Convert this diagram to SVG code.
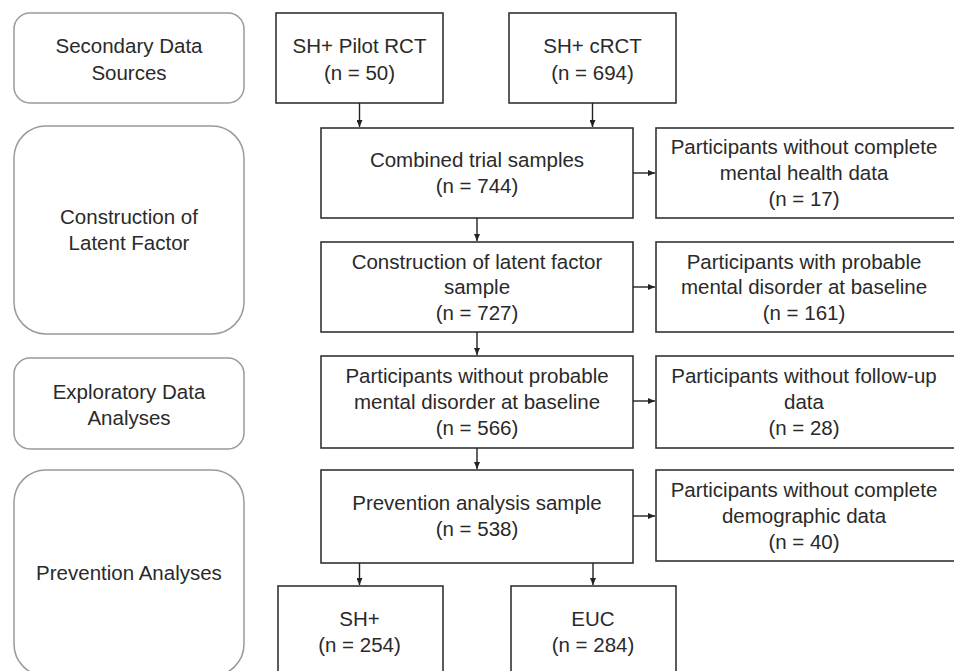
<svg xmlns="http://www.w3.org/2000/svg" width="954" height="671" viewBox="0 0 954 671">
<defs>
<marker id="ah" markerWidth="7" markerHeight="6" refX="7" refY="3" orient="auto" markerUnits="userSpaceOnUse">
<path d="M0,0 L7,3 L0,6 Z" fill="#222"/>
</marker>
<style>
.stage{fill:#fff;stroke:#9a9a9a;stroke-width:1.5}
.box{fill:#fff;stroke:#333;stroke-width:1.6}
text{font-family:"Liberation Sans",Arial,sans-serif;font-size:20.5px;fill:#2a2a2a;text-anchor:middle}
.conn{stroke:#222;stroke-width:1.4;fill:none;marker-end:url(#ah)}
</style>
</defs>
<rect width="954" height="671" fill="#fff"/>

<g id="stage-secondary">
<rect class="stage" x="14" y="13" width="230" height="90" rx="16"/>
<text x="129" y="53">Secondary Data</text>
<text x="129" y="80">Sources</text>
</g>
<g id="stage-latent">
<rect class="stage" x="14" y="126" width="230" height="208" rx="32"/>
<text x="129" y="224">Construction of</text>
<text x="129" y="250">Latent Factor</text>
</g>
<g id="stage-exploratory">
<rect class="stage" x="14" y="358" width="230" height="91" rx="16"/>
<text x="129" y="399">Exploratory Data</text>
<text x="129" y="425">Analyses</text>
</g>
<g id="stage-prevention">
<rect class="stage" x="14" y="470" width="230" height="206" rx="32"/>
<text x="129" y="580">Prevention Analyses</text>
</g>

<g id="pilot">
<rect class="box" x="276" y="13" width="167" height="90"/>
<text x="359.5" y="53">SH+ Pilot RCT</text>
<text x="359.5" y="80">(n = 50)</text>
</g>
<g id="crct">
<rect class="box" x="509" y="13" width="167" height="90"/>
<text x="592.5" y="53">SH+ cRCT</text>
<text x="592.5" y="80">(n = 694)</text>
</g>
<g id="combined">
<rect class="box" x="321" y="128" width="312" height="90"/>
<text x="477" y="167">Combined trial samples</text>
<text x="477" y="193">(n = 744)</text>
</g>
<g id="excl-mental">
<rect class="box" x="656" y="128" width="310" height="90"/>
<text x="804" y="154">Participants without complete</text>
<text x="804" y="180">mental health data</text>
<text x="804" y="206">(n = 17)</text>
</g>
<g id="latent-sample">
<rect class="box" x="321" y="242" width="312" height="90"/>
<text x="477" y="269">Construction of latent factor</text>
<text x="477" y="294">sample</text>
<text x="477" y="320">(n = 727)</text>
</g>
<g id="excl-disorder">
<rect class="box" x="656" y="242" width="310" height="90"/>
<text x="804" y="269">Participants with probable</text>
<text x="804" y="294">mental disorder at baseline</text>
<text x="804" y="320">(n = 161)</text>
</g>
<g id="no-disorder">
<rect class="box" x="321" y="356" width="312" height="92"/>
<text x="477" y="383">Participants without probable</text>
<text x="477" y="409">mental disorder at baseline</text>
<text x="477" y="435">(n = 566)</text>
</g>
<g id="excl-followup">
<rect class="box" x="656" y="356" width="310" height="92"/>
<text x="804" y="383">Participants without follow-up</text>
<text x="804" y="409">data</text>
<text x="804" y="435">(n = 28)</text>
</g>
<g id="prevention-sample">
<rect class="box" x="321" y="470" width="312" height="93"/>
<text x="477" y="510">Prevention analysis sample</text>
<text x="477" y="536">(n = 538)</text>
</g>
<g id="excl-demographic">
<rect class="box" x="656" y="470" width="310" height="91"/>
<text x="804" y="497">Participants without complete</text>
<text x="804" y="523">demographic data</text>
<text x="804" y="549">(n = 40)</text>
</g>
<g id="shplus">
<rect class="box" x="278" y="586" width="165" height="100"/>
<text x="359.5" y="626">SH+</text>
<text x="359.5" y="652">(n = 254)</text>
</g>
<g id="euc">
<rect class="box" x="511" y="586" width="165" height="100"/>
<text x="593" y="626">EUC</text>
<text x="593" y="652">(n = 284)</text>
</g>

<g id="connectors">
<line class="conn" x1="359.5" y1="103" x2="359.5" y2="127"/>
<line class="conn" x1="592.5" y1="103" x2="592.5" y2="127"/>
<line class="conn" x1="477" y1="218" x2="477" y2="241"/>
<line class="conn" x1="477" y1="332" x2="477" y2="355"/>
<line class="conn" x1="477" y1="448" x2="477" y2="469"/>
<line class="conn" x1="359.5" y1="563" x2="359.5" y2="585"/>
<line class="conn" x1="593" y1="563" x2="593" y2="585"/>
<line class="conn" x1="633" y1="173" x2="655" y2="173"/>
<line class="conn" x1="633" y1="287" x2="655" y2="287"/>
<line class="conn" x1="633" y1="401" x2="655" y2="401"/>
<line class="conn" x1="633" y1="516" x2="655" y2="516"/>
</g>
</svg>
